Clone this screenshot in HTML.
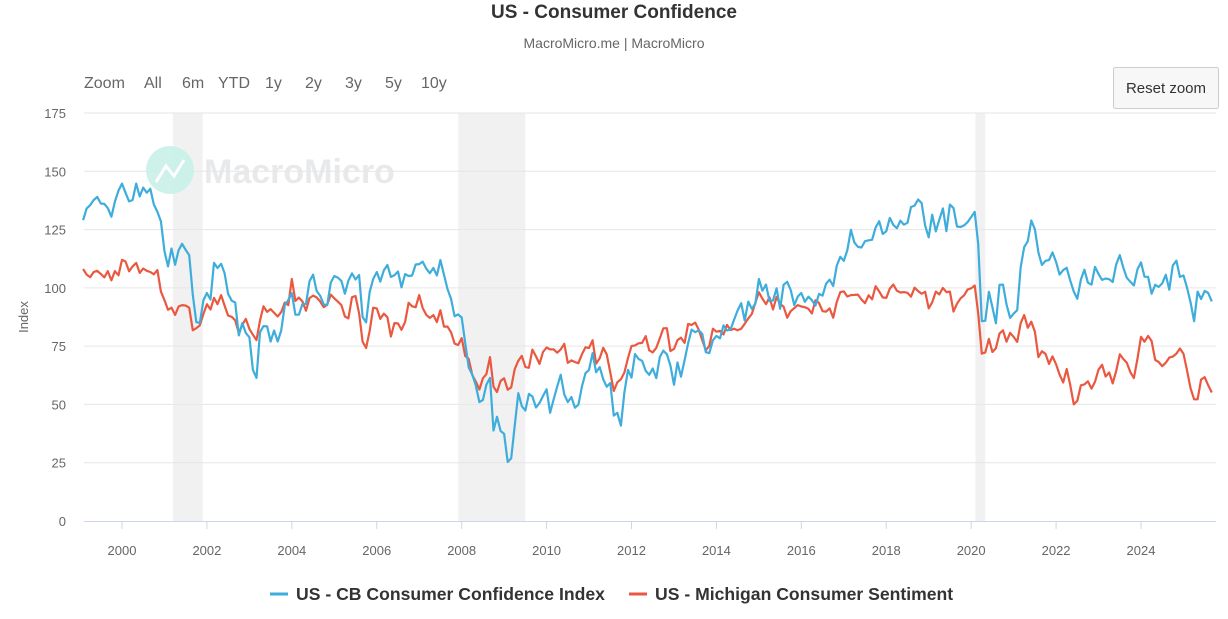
<!DOCTYPE html>
<html><head><meta charset="utf-8"><style>
body{margin:0;background:#fff;font-family:"Liberation Sans",sans-serif;}
svg text{font-family:"Liberation Sans",sans-serif;}
</style></head><body>
<svg id="chart" width="1228" height="614" viewBox="0 0 1228 614" xmlns="http://www.w3.org/2000/svg">
<rect width="1228" height="614" fill="#fff"/>
<text x="614" y="18" text-anchor="middle" font-size="19" font-weight="bold" fill="#333">US - Consumer Confidence</text>
<text x="614" y="48" text-anchor="middle" font-size="14" fill="#666">MacroMicro.me | MacroMicro</text>
<g font-size="16" fill="#666">
<text x="84" y="88">Zoom</text>
<text x="144" y="88">All</text>
<text x="182" y="88">6m</text>
<text x="218" y="88">YTD</text>
<text x="265" y="88">1y</text>
<text x="305" y="88">2y</text>
<text x="345" y="88">3y</text>
<text x="385" y="88">5y</text>
<text x="421" y="88">10y</text>
</g>
<g>
<rect x="1113.5" y="67.5" width="105" height="41" rx="2" fill="#f7f7f7" stroke="#ccc"/>
<text x="1166" y="93" text-anchor="middle" font-size="15" fill="#333">Reset zoom</text>
</g>
<g id="bands"></g>
<g id="grid"></g>
<g opacity="0.9">
<circle cx="170" cy="170" r="24" fill="#c9f1e8"/>
<polyline points="156,182 166,166 174,176 184,160" fill="none" stroke="#fff" stroke-width="3"/>
<text x="204" y="183" font-size="34" font-weight="bold" fill="#e6e7e9">MacroMicro</text>
</g>
<g id="series"></g>
<g id="axes"></g>
<g font-size="17.6" font-weight="bold" fill="#333">
<g><line x1="270" y1="594" x2="288" y2="594" stroke="#3eaddc" stroke-width="3"/><text x="296" y="600">US - CB Consumer Confidence Index</text></g>
<g><line x1="629" y1="594" x2="647" y2="594" stroke="#ea5840" stroke-width="3"/><text x="655" y="600">US - Michigan Consumer Sentiment</text></g>
</g>
</svg>
<script>
const startYear = 1999 + 1/12;
const cbValues = [129.0,134.0,135.5,137.7,139.0,136.2,136.0,134.2,130.5,137.0,141.7,
144.7,140.8,137.1,137.7,144.7,139.2,143.0,140.8,142.5,135.8,132.6,128.6,
115.7,109.2,116.9,109.9,116.1,118.9,116.3,114.0,97.0,85.3,84.9,94.6,
97.8,95.0,110.7,108.5,110.3,106.3,97.4,94.5,93.7,79.6,84.9,80.7,
78.8,64.8,61.4,81.0,83.6,83.5,77.0,81.7,77.0,81.7,92.5,94.8,
97.7,88.5,88.5,93.0,93.1,102.8,105.7,98.7,96.7,92.9,92.6,102.3,
105.1,104.4,103.0,97.5,103.1,106.2,103.6,105.5,87.5,85.2,98.3,103.8,
106.8,102.7,107.5,109.8,104.7,105.4,107.0,100.2,105.9,105.1,105.3,110.0,
110.2,111.2,108.2,106.3,108.5,105.3,111.9,105.6,99.5,95.2,87.8,88.6,
87.3,76.4,65.9,62.8,58.1,51.0,51.9,58.5,61.4,38.8,44.7,38.6,
37.4,25.3,26.9,40.8,54.8,49.3,47.4,54.5,53.4,48.7,50.6,53.6,
56.5,46.4,52.3,57.7,62.7,54.3,51.0,53.2,48.6,49.9,57.8,63.4,
64.8,72.0,63.8,66.0,60.8,57.6,59.2,45.2,46.4,40.9,55.2,64.8,
61.5,71.6,69.5,68.7,64.4,62.7,65.4,61.3,70.3,73.1,71.5,66.7,
58.4,68.0,61.9,69.0,76.2,82.1,81.0,81.8,80.2,72.4,72.0,77.5,
79.4,78.3,83.9,81.7,82.2,86.4,90.3,93.4,86.0,94.1,91.0,93.1,
103.8,98.8,101.4,94.3,94.6,99.8,91.0,101.3,102.6,99.1,92.6,96.3,
97.8,94.0,96.2,94.7,92.4,97.4,96.7,101.8,103.5,100.8,109.4,113.3,
111.6,116.1,124.9,119.4,117.6,117.3,120.0,120.4,120.6,125.9,128.6,123.1,
124.3,130.0,127.0,125.6,128.8,127.1,127.9,134.7,135.3,137.9,136.4,126.6,
121.7,131.4,124.2,129.2,134.1,124.3,135.7,134.2,126.3,126.1,126.8,128.2,
130.4,132.6,118.8,85.7,85.9,98.3,91.7,84.8,101.3,101.4,92.9,87.1,
88.9,90.4,109.0,117.5,120.0,128.9,125.1,115.2,109.8,111.6,111.9,115.2,
111.1,105.7,107.6,108.6,103.2,98.4,95.3,103.6,107.8,102.2,101.4,109.0,
106.0,103.4,104.0,103.7,102.5,110.1,114.0,108.7,104.3,102.6,101.0,108.0,
110.9,104.8,104.7,97.5,101.3,100.4,101.9,105.6,99.2,109.6,111.7,104.7,
105.3,100.1,93.9,85.7,98.4,95.2,98.7,97.8,94.2];
const michiganValues = [108.1,105.7,104.6,106.8,107.3,106.0,104.5,107.2,103.2,107.2,105.4,
112.0,111.3,107.1,109.2,110.7,106.4,108.3,107.3,106.8,105.8,107.6,98.4,
94.7,90.6,91.5,88.4,92.0,92.6,92.4,91.5,81.8,82.7,83.9,88.8,
93.0,90.7,95.7,93.0,96.9,92.4,88.1,87.6,86.1,80.6,84.2,86.7,
82.4,79.9,77.6,86.0,92.1,89.7,90.9,89.3,87.7,89.6,93.7,92.6,
103.8,94.4,95.8,94.2,90.2,95.6,96.7,95.9,94.2,91.7,92.8,97.1,
95.5,94.1,92.6,87.7,86.9,96.0,96.5,89.1,76.9,74.2,81.6,91.5,
91.2,86.7,88.9,87.4,79.1,84.9,84.7,82.0,85.4,93.6,92.1,91.7,
96.9,91.3,88.4,87.1,88.3,85.3,90.4,83.4,83.4,80.9,76.1,75.5,
78.4,70.8,69.5,62.6,59.8,56.4,61.2,63.0,70.3,57.6,55.3,60.1,
61.2,56.3,57.3,65.1,68.7,70.8,66.0,65.7,73.5,70.6,67.4,72.5,
74.4,73.6,73.6,72.2,73.6,76.0,67.8,68.9,68.2,67.7,71.6,74.5,
74.2,77.5,67.5,69.8,74.3,71.5,63.7,55.8,59.5,60.8,63.7,69.9,
75.0,75.3,76.2,76.4,79.3,73.2,72.3,74.3,78.3,82.6,82.7,72.9,
73.8,77.6,78.6,76.4,84.5,84.1,85.1,82.1,77.5,73.2,75.1,82.5,
81.2,81.6,80.0,84.1,81.9,82.5,81.8,82.5,84.6,86.9,88.8,93.6,
98.1,95.4,93.0,95.9,90.7,96.1,93.1,91.9,87.2,90.0,91.3,92.6,
92.0,91.7,91.0,89.0,94.7,93.5,90.0,89.8,91.2,87.2,93.8,98.2,
98.5,96.3,96.9,97.0,97.1,95.0,93.4,96.8,95.1,100.7,98.5,95.9,
95.7,99.7,101.4,98.8,98.0,98.2,97.9,96.2,100.1,98.6,97.5,98.3,
91.2,93.8,98.4,97.2,100.0,98.2,98.4,89.8,93.2,95.5,96.8,99.3,
99.8,101.0,89.1,71.8,72.3,78.1,72.5,74.1,80.4,81.8,76.9,80.7,
79.0,76.8,84.9,88.3,82.9,85.5,81.2,70.3,72.8,71.7,67.4,70.6,
67.2,62.8,59.4,65.2,58.4,50.0,51.5,58.2,58.6,59.9,56.8,59.7,
64.9,67.0,62.0,63.7,59.0,64.4,71.5,69.5,67.9,63.8,61.3,69.7,
79.0,76.9,79.4,77.2,69.1,68.2,66.4,67.9,70.1,70.5,71.8,74.0,
71.7,64.7,57.0,52.2,52.2,60.7,61.7,58.2,55.1];
const yTicks = [0,25,50,75,100,125,150,175];
const xTickYears = [2000,2002,2004,2006,2008,2010,2012,2014,2016,2018,2020,2022,2024];
const recessionStarts = [2001.2,2007.92,2020.1];
const recessionEnds = [2001.9,2009.5,2020.33];

const NS='http://www.w3.org/2000/svg';
const plotL=84, plotR=1216, plotT=113, plotB=521;
const x = yr => 122 + (yr-2000)*(1019/24);
const y = v => plotB - v*(plotB-plotT)/175;
function mk(tag, attrs, parent){const e=document.createElementNS(NS,tag);for(const k in attrs)e.setAttribute(k,attrs[k]);parent.appendChild(e);return e;}

const bands=document.getElementById('bands');
recessionStarts.forEach((s,i)=>{
  const r=mk('rect',{x:x(s),y:plotT,width:x(recessionEnds[i])-x(s),height:plotB-plotT,fill:'#f1f1f1'},bands);
  
  
});
const grid=document.getElementById('grid');
yTicks.forEach(t=>{
  if(t>0){const l=mk('line',{x1:plotL,x2:plotR,y1:y(t),y2:y(t),stroke:'#e6e6e6','stroke-width':1},grid);
  
  }
});
const axes=document.getElementById('axes');
yTicks.forEach(t=>{
  const tx=mk('text',{x:66,y:y(t)+5,'text-anchor':'end','font-size':13,fill:'#666'},axes);
  tx.textContent=t;
  
  
});
const xl=mk('line',{x1:plotL,x2:plotR,y1:plotB+0.5,y2:plotB+0.5,stroke:'#ccd6eb'},axes);


xTickYears.forEach(yr=>{
  const tk=mk('line',{x1:x(yr),x2:x(yr),y1:plotB,y2:plotB+8,stroke:'#ccd6eb'},axes);
  
  
  const tx=mk('text',{x:x(yr),y:plotB+34,'text-anchor':'middle','font-size':13,fill:'#666'},axes);
  tx.textContent=yr;
  
  
});
const yt=mk('text',{x:28,y:317,'text-anchor':'middle','font-size':13,fill:'#666',transform:'rotate(-90 28 317)'},axes);
yt.textContent='Index';



const series=document.getElementById('series');
function line(vals,color,name){
  const pts=vals.map((v,i)=>x(startYear+i/12).toFixed(1)+','+y(v).toFixed(1)).join(' ');
  const p=mk('polyline',{points:pts,fill:'none',stroke:color,'stroke-width':2.2,'stroke-linejoin':'round'},series);
  
  
}
line(michiganValues,'#ea5840','michigan-sentiment-line');
line(cbValues,'#3eaddc','cb-confidence-line');
</script>
</body></html>
